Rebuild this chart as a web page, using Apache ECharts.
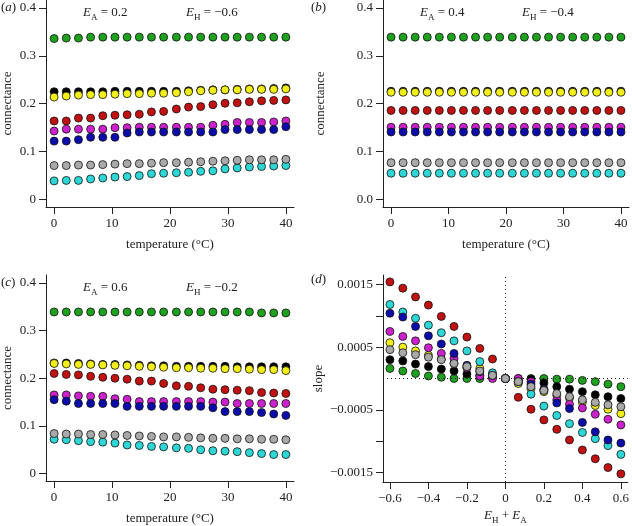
<!DOCTYPE html>
<html>
<head>
<meta charset="utf-8">
<script src="https://cdn.jsdelivr.net/npm/echarts@6/dist/echarts.min.js"></script>
<style>
html, body { margin: 0; padding: 0; background: #fff; }
#chart { width: 632px; height: 526px; }
</style>
</head>
<body>
<div id="chart"></div>
<script>
// x values
const temperature = [0, 2.1, 4.2, 6.3, 8.4, 10.5, 12.6, 14.7, 16.8, 18.9, 21.1, 23.2, 25.3, 27.4, 29.5, 31.6, 33.7, 35.8, 37.9, 40]
const energySum = [-0.6, -0.533, -0.467, -0.4, -0.333, -0.267, -0.2, -0.133, -0.067, 0, 0.067, 0.133, 0.2, 0.267, 0.333, 0.4, 0.467, 0.533, 0.6]

// draw order, bottom to top
const seriesNames = ['green', 'black', 'yellow', 'red', 'cyan', 'magenta', 'blue', 'grey']
const colors = {
  green: '#1fa01f', black: '#000000', yellow: '#f2ee1a', red: '#c01212',
  cyan: '#2fd6d6', magenta: '#cc22cc', blue: '#0c0caa', grey: '#a9a9a9'
}

// (a) E_A = 0.2, E_H = -0.6
const aGreen = [0.336, 0.337, 0.337, 0.339, 0.339, 0.339, 0.339, 0.339, 0.339, 0.339, 0.339, 0.339, 0.339, 0.339, 0.339, 0.339, 0.339, 0.339, 0.339, 0.339]
const aBlack = [0.225, 0.225, 0.225, 0.225, 0.225, 0.226, 0.226, 0.226, 0.226, 0.226, 0.226, 0.227, 0.228, 0.229, 0.229, 0.230, 0.231, 0.231, 0.232, 0.233]
const aYellow = [0.214, 0.216, 0.218, 0.219, 0.219, 0.220, 0.221, 0.221, 0.222, 0.222, 0.223, 0.225, 0.227, 0.228, 0.229, 0.229, 0.230, 0.230, 0.230, 0.231]
const aRed = [0.164, 0.164, 0.170, 0.170, 0.175, 0.176, 0.177, 0.178, 0.183, 0.184, 0.189, 0.193, 0.194, 0.198, 0.201, 0.202, 0.204, 0.206, 0.207, 0.208]
const aCyan = [0.039, 0.040, 0.040, 0.043, 0.045, 0.047, 0.048, 0.050, 0.054, 0.055, 0.056, 0.057, 0.059, 0.060, 0.064, 0.066, 0.068, 0.069, 0.070, 0.071]
const aMagenta = [0.143, 0.147, 0.147, 0.147, 0.147, 0.150, 0.150, 0.151, 0.151, 0.151, 0.151, 0.151, 0.151, 0.155, 0.157, 0.161, 0.161, 0.161, 0.162, 0.164]
const aBlue = [0.122, 0.122, 0.125, 0.130, 0.130, 0.130, 0.139, 0.141, 0.141, 0.141, 0.141, 0.141, 0.141, 0.141, 0.146, 0.146, 0.146, 0.146, 0.146, 0.152]
const aGrey = [0.071, 0.071, 0.072, 0.072, 0.073, 0.074, 0.075, 0.075, 0.076, 0.077, 0.077, 0.078, 0.079, 0.080, 0.081, 0.082, 0.083, 0.083, 0.083, 0.084]

// (b) E_A = 0.4, E_H = -0.4
const bGreen = [0.339, 0.339, 0.339, 0.339, 0.339, 0.339, 0.339, 0.339, 0.339, 0.339, 0.339, 0.339, 0.339, 0.339, 0.339, 0.339, 0.339, 0.339, 0.339, 0.339]
const bBlack = [0.226, 0.226, 0.226, 0.226, 0.226, 0.226, 0.226, 0.226, 0.226, 0.226, 0.226, 0.226, 0.226, 0.226, 0.226, 0.226, 0.226, 0.226, 0.226, 0.226]
const bYellow = [0.224, 0.224, 0.224, 0.224, 0.224, 0.224, 0.224, 0.224, 0.224, 0.224, 0.224, 0.224, 0.224, 0.224, 0.224, 0.224, 0.224, 0.224, 0.224, 0.224]
const bRed = [0.186, 0.186, 0.186, 0.186, 0.186, 0.186, 0.186, 0.186, 0.186, 0.186, 0.186, 0.186, 0.186, 0.186, 0.186, 0.186, 0.186, 0.186, 0.186, 0.186]
const bCyan = [0.055, 0.055, 0.055, 0.055, 0.055, 0.055, 0.055, 0.055, 0.055, 0.055, 0.055, 0.055, 0.055, 0.055, 0.055, 0.055, 0.055, 0.055, 0.055, 0.055]
const bMagenta = [0.151, 0.151, 0.151, 0.151, 0.151, 0.151, 0.151, 0.151, 0.151, 0.151, 0.151, 0.151, 0.151, 0.151, 0.151, 0.151, 0.151, 0.151, 0.151, 0.151]
const bBlue = [0.141, 0.141, 0.141, 0.141, 0.141, 0.141, 0.141, 0.141, 0.141, 0.141, 0.141, 0.141, 0.141, 0.141, 0.141, 0.141, 0.141, 0.141, 0.141, 0.141]
const bGrey = [0.077, 0.077, 0.077, 0.077, 0.077, 0.077, 0.077, 0.077, 0.077, 0.077, 0.077, 0.077, 0.077, 0.077, 0.077, 0.077, 0.077, 0.077, 0.077, 0.077]

// (c) E_A = 0.6, E_H = -0.2
const cGreen = [0.339, 0.339, 0.339, 0.339, 0.339, 0.339, 0.339, 0.339, 0.339, 0.339, 0.339, 0.339, 0.339, 0.339, 0.339, 0.339, 0.339, 0.337, 0.337, 0.337]
const cBlack = [0.232, 0.232, 0.231, 0.230, 0.229, 0.229, 0.228, 0.227, 0.226, 0.226, 0.225, 0.225, 0.225, 0.225, 0.225, 0.224, 0.224, 0.224, 0.224, 0.224]
const cYellow = [0.231, 0.230, 0.229, 0.229, 0.228, 0.227, 0.226, 0.225, 0.224, 0.223, 0.222, 0.222, 0.221, 0.221, 0.220, 0.220, 0.219, 0.218, 0.218, 0.216]
const cRed = [0.210, 0.208, 0.207, 0.204, 0.202, 0.200, 0.198, 0.194, 0.194, 0.189, 0.184, 0.183, 0.180, 0.177, 0.176, 0.175, 0.174, 0.170, 0.169, 0.168]
const cCyan = [0.072, 0.071, 0.069, 0.067, 0.066, 0.064, 0.060, 0.059, 0.057, 0.056, 0.054, 0.053, 0.050, 0.048, 0.047, 0.046, 0.044, 0.042, 0.040, 0.040]
const cMagenta = [0.165, 0.165, 0.163, 0.162, 0.162, 0.157, 0.156, 0.151, 0.151, 0.151, 0.151, 0.151, 0.151, 0.150, 0.150, 0.147, 0.147, 0.147, 0.147, 0.147]
const cBlue = [0.155, 0.152, 0.147, 0.147, 0.147, 0.147, 0.141, 0.141, 0.141, 0.141, 0.141, 0.141, 0.141, 0.138, 0.130, 0.130, 0.130, 0.128, 0.125, 0.122]
const cGrey = [0.084, 0.083, 0.083, 0.082, 0.082, 0.081, 0.080, 0.079, 0.078, 0.077, 0.077, 0.076, 0.075, 0.074, 0.074, 0.073, 0.073, 0.072, 0.072, 0.071]

// (d) slope against E_H + E_A
const dGreen = [0.00016, 0.00012, 0.00008, 0.00004, 0.00002, 0.00000, 0.00000, 0.00000, 0.00005, 0, 0.00000, 0.00000, 0.00000, -0.00001, -0.00001, -0.00003, -0.00005, -0.00009, -0.00013]
const dBlack = [0.00030, 0.00028, 0.00023, 0.00019, 0.00015, 0.00012, 0.00007, 0.00005, 0.00002, 0, -0.00006, -0.00001, -0.00007, -0.00013, -0.00017, -0.00021, -0.00026, -0.00029, -0.00032]
const dYellow = [0.00057, 0.00050, 0.00044, 0.00037, 0.00031, 0.00024, 0.00018, 0.00016, 0.00005, 0, -0.00008, -0.00016, -0.00021, -0.00027, -0.00031, -0.00038, -0.00043, -0.00049, -0.00056]
const dRed = [0.00154, 0.00144, 0.00130, 0.00117, 0.00099, 0.00083, 0.00066, 0.00048, 0.00031, 0, -0.00030, -0.00049, -0.00066, -0.00081, -0.00098, -0.00114, -0.00128, -0.00142, -0.00152]
const dCyan = [0.00118, 0.00106, 0.00096, 0.00085, 0.00073, 0.00060, 0.00044, 0.00027, 0.00009, 0, -0.00004, -0.00025, -0.00044, -0.00059, -0.00072, -0.00086, -0.00096, -0.00107, -0.00121]
const dMagenta = [0.00075, 0.00067, 0.00060, 0.00049, 0.00040, 0.00032, 0.00017, 0.00004, 0.00000, 0, 0.00000, -0.00005, -0.00017, -0.00034, -0.00041, -0.00047, -0.00057, -0.00065, -0.00074]
const dBlue = [0.00104, 0.00098, 0.00083, 0.00068, 0.00055, 0.00040, 0.00021, 0.00011, 0.00005, 0, -0.00005, -0.00009, -0.00018, -0.00039, -0.00048, -0.00070, -0.00085, -0.00098, -0.00103]
const dGrey = [0.00046, 0.00041, 0.00038, 0.00034, 0.00030, 0.00024, 0.00019, 0.00012, 0.00005, 0, -0.00005, -0.00013, -0.00019, -0.00024, -0.00029, -0.00034, -0.00038, -0.00042, -0.00045]

const panels = [
  {x: temperature, ys: [aGreen, aBlack, aYellow, aRed, aCyan, aMagenta, aBlue, aGrey]},
  {x: temperature, ys: [bGreen, bBlack, bYellow, bRed, bCyan, bMagenta, bBlue, bGrey]},
  {x: temperature, ys: [cGreen, cBlack, cYellow, cRed, cCyan, cMagenta, cBlue, cGrey]},
  {x: energySum, ys: [dGreen, dBlack, dYellow, dRed, dCyan, dMagenta, dBlue, dGrey]}
]

const font = 'Liberation Serif'
const ink = '#222'
const rich = {
  i: {fontStyle: 'italic', fontFamily: font, fontSize: 13, color: ink, lineHeight: 16, verticalAlign: 'top'},
  n: {fontFamily: font, fontSize: 13, color: ink, lineHeight: 16, verticalAlign: 'top'},
  s: {fontFamily: font, fontSize: 9, color: ink, lineHeight: 9, verticalAlign: 'bottom'}
}

// onZero off: R-style axes sit on the plot box edge, not at zero
const axisLine = {show: true, onZero: false, lineStyle: {color: ink, width: 1}}
const axisTick = (vals) => ({show: true, length: 7, lineStyle: {color: ink}, customValues: vals})
const labelStyle = {color: ink, fontFamily: font, fontSize: 13, margin: 10}
const minus = (s) => s.replace('-', '\u2212')

const grids = [
  {left: 46, top: 0, width: 248, height: 207},
  {left: 383, top: 0, width: 246, height: 207},
  {left: 46, top: 275, width: 248, height: 207},
  {left: 383, top: 275, width: 245, height: 207}
]

const tempTicks = [0, 10, 20, 30, 40]
const xAxes = [0, 1, 2].map(i => ({
  type: 'value', gridIndex: i, min: -1.4, max: 41.4,
  name: 'temperature (\u00B0C)', nameLocation: 'middle', nameGap: 31,
  nameTextStyle: {color: ink, fontFamily: font, fontSize: 13},
  axisLine, axisTick: axisTick(tempTicks), splitLine: {show: false},
  axisLabel: {...labelStyle, customValues: tempTicks}
}))
const slopeXTicks = [-0.6, -0.4, -0.2, 0, 0.2, 0.4, 0.6]
xAxes.push({
  type: 'value', gridIndex: 3, min: -0.636, max: 0.636,
  name: '{i|E}{s|H}{n| + }{i|E}{s|A}', nameLocation: 'middle', nameGap: 27,
  nameTextStyle: {rich},
  axisLine, axisTick: axisTick(slopeXTicks), splitLine: {show: false},
  axisLabel: {...labelStyle, customValues: slopeXTicks, formatter: v => minus(String(+v.toFixed(1)))}
})

const connTicks = [0, 0.1, 0.2, 0.3, 0.4]
const yAxes = [0, 1, 2].map(i => ({
  type: 'value', gridIndex: i, min: -0.0155, max: 0.4165,
  name: 'connectance', nameLocation: 'middle', nameRotate: 90,
  nameGap: i === 1 ? 56 : 32,
  nameTextStyle: {color: ink, fontFamily: font, fontSize: 13},
  axisLine, axisTick: axisTick(connTicks), splitLine: {show: false},
  axisLabel: {...labelStyle, customValues: connTicks,
    formatter: v => (i !== 1 && v === 0) ? '0' : v.toFixed(1)}
}))
yAxes.push({
  type: 'value', gridIndex: 3, min: -0.00165, max: 0.00165,
  name: 'slope', nameLocation: 'middle', nameRotate: 90, nameGap: 58,
  nameTextStyle: {color: ink, fontFamily: font, fontSize: 13},
  axisLine, axisTick: axisTick([-0.0015, -0.001, -0.0005, 0.0005, 0.001, 0.0015]),
  splitLine: {show: false},
  axisLabel: {...labelStyle, customValues: [-0.0015, -0.0005, 0.0005, 0.0015],
    formatter: v => minus(v.toFixed(4))}
})

const series = []
panels.forEach((p, pi) => {
  p.ys.forEach((ys, si) => {
    series.push({
      type: 'scatter', name: seriesNames[si], xAxisIndex: pi, yAxisIndex: pi,
      data: p.x.map((x, k) => [x, ys[k]]),
      symbol: 'circle', symbolSize: 8,
      itemStyle: {color: colors[seriesNames[si]], borderColor: '#111', borderWidth: 0.8, opacity: 1},
      z: 2 + si
    })
  })
})
// dotted reference lines in (d)
series.push({
  type: 'scatter', xAxisIndex: 3, yAxisIndex: 3, data: [], z: 1,
  markLine: {
    silent: true, symbol: ['none', 'none'], label: {show: false},
    lineStyle: {color: '#222', type: [1, 3], width: 1},
    emphasis: {disabled: true},
    data: [{xAxis: 0}, {yAxis: 0}]
  }
})

const txt = (x, y, text) => ({type: 'text', x, y, style: {text, rich, font: '13px ' + font, fill: ink}})
const graphic = [
  txt(1, 1, '{n|(}{i|a}{n|)}'),
  txt(311, 1, '{n|(}{i|b}{n|)}'),
  txt(1, 276, '{n|(}{i|c}{n|)}'),
  txt(311, 273, '{n|(}{i|d}{n|)}'),
  txt(83, 6, '{i|E}{s|A}{n| = 0.2}'),
  txt(186, 6, '{i|E}{s|H}{n| = \u22120.6}'),
  txt(420, 6, '{i|E}{s|A}{n| = 0.4}'),
  txt(522, 6, '{i|E}{s|H}{n| = \u22120.4}'),
  txt(83, 281, '{i|E}{s|A}{n| = 0.6}'),
  txt(186, 281, '{i|E}{s|H}{n| = \u22120.2}')
]

const chart = echarts.init(document.getElementById('chart'))
chart.setOption({
  animation: false,
  backgroundColor: '#fff',
  grid: grids,
  xAxis: xAxes,
  yAxis: yAxes,
  series,
  graphic
})
</script>
</body>
</html>
